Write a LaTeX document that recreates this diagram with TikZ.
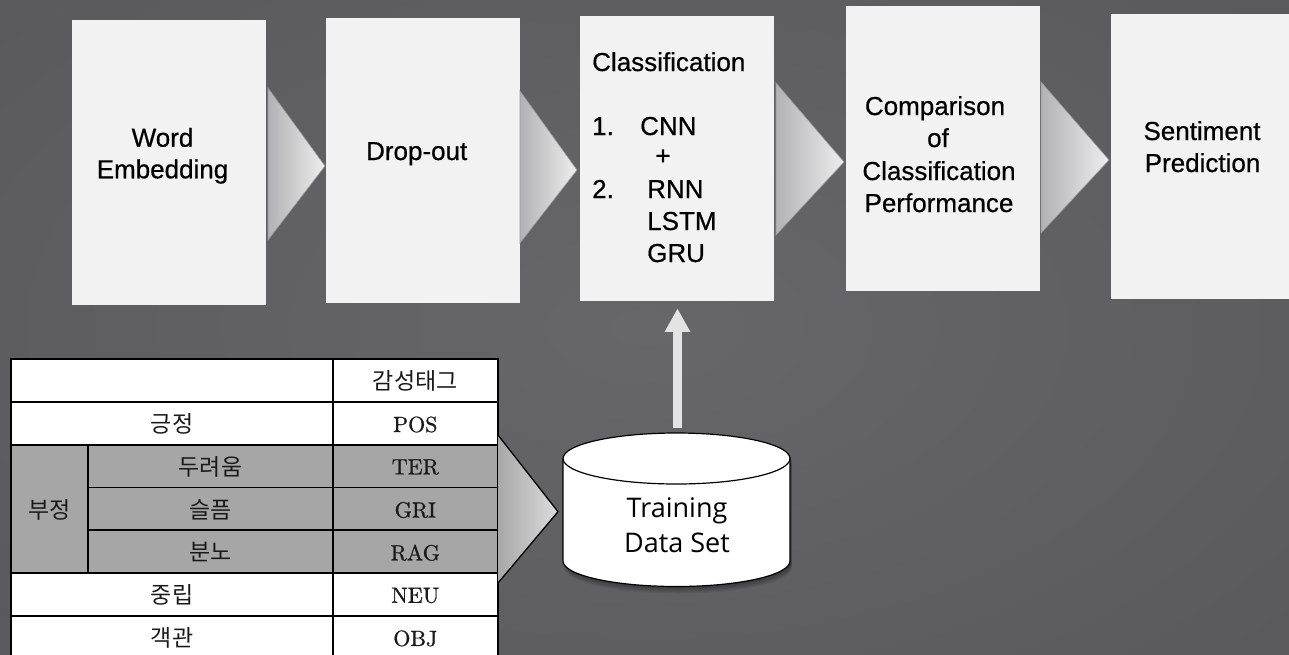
\documentclass[tikz,border=0pt]{standalone}
\usepackage{fontspec}
\newfontfamily\boxfont{Liberation Sans}[FakeBold=0.6]
\newfontfamily\krfont{Noto Sans CJK KR}
\newfontfamily\dbfont{Open Sans}
\newfontfamily\tagfont{lmroman10-regular}[Extension=.otf, FakeBold=0.8]
\usetikzlibrary{calc,arrows.meta}

\definecolor{bgmid}{HTML}{67666B}
\definecolor{bgedge}{HTML}{5A595E}
\definecolor{panel}{HTML}{F2F2F2}
\definecolor{chevL}{HTML}{B2B2B6}
\definecolor{chevR}{HTML}{EEEEEE}
\definecolor{chevEdge}{HTML}{9A9A9E}
\definecolor{tabL}{HTML}{A8A8A8}
\definecolor{tabR}{HTML}{DCDCDC}
\definecolor{negrow}{HTML}{A6A6A6}
\definecolor{uparrow}{HTML}{E3E3E3}
\definecolor{ink}{HTML}{1A1A1A}

% outline of the data-set cylinder, in page coordinates
\newcommand{\dbshape}{(563,458.5) -- (563,561)
  arc[start angle=180,end angle=360,x radius=113.5pt,y radius=25.5pt]
  -- (790,458.5)
  arc[start angle=0,end angle=180,x radius=113.5pt,y radius=25.5pt] -- cycle}

\begin{document}
\begin{tikzpicture}[x=1pt,y=-1pt,
  stage/.style={fill=panel, draw=none, inner sep=0, anchor=north west,
                minimum width=194pt, minimum height=285pt},
  lbl/.style={font=\boxfont\fontsize{26}{30}\selectfont, text=black,
              inner sep=0, anchor=base},
  lblw/.style={lbl, anchor=base west},
  kr/.style={font=\krfont\fontsize{23}{27}\selectfont, text=ink, inner sep=0},
  tag/.style={font=\tagfont\fontsize{22}{26}\selectfont, text=ink, inner sep=0},
  grid/.style={draw=black, line width=1.8pt},
  chev/.style={draw=chevEdge, line width=0.6pt},
]
\useasboundingbox (0,0) rectangle (1289,654);
\clip (0,0) rectangle (1289,654);

% backdrop
\shade[inner color=bgmid, outer color=bgedge] (-200,-150) rectangle (1489,804);

% pipeline stages
\node[stage] (b1) at (72,20) {};
\node[stage] (b2) at (326,18) {};
\node[stage] (b3) at (580,16) {};
\node[stage] (b4) at (846,6) {};
\node[stage] (b5) at (1111,14) {};

% chevrons between the stages
\foreach \xl/\yt/\yb/\xt/\yc in {268/88/240/325/166, 520/91/243/577/170,
                                 776/83/235/844/162, 1041/82/233/1109/160}{
  \shade[left color=chevL, right color=chevR]
    (\xl,\yt) -- (\xt,\yc) -- (\xl,\yb) -- cycle;
  \draw[chev] (\xl,\yt) -- (\xt,\yc) -- (\xl,\yb) -- cycle;
}

% stage labels
\node[lbl] (w1) at (162.5,146.7) {Word};
\node[lbl] (w2) at (162.5,178.3) {Embedding};
\node[lbl] (d1) at (416.7,160) {Drop-out};

\node[lblw] (c0) at (592,71) {Classification};
\node[lblw] (n1) at (592,135) {1.};
\node[lblw] (c1) at (640,135) {CNN};
\node[lbl, anchor=center] (cp) at (663,157) {+};
\node[lblw] (n2) at (592,198) {2.};
\node[lblw] (c2) at (647,198) {RNN};
\node[lblw] (c3) at (647,230) {LSTM};
\node[lblw] (c4) at (647,262) {GRU};

\node[lbl] (p1) at (935,115) {Comparison};
\node[lbl] (p2) at (938,147) {of};
\node[lbl] (p3) at (939,180) {Classification};
\node[lbl] (p4) at (939,212) {Performance};

\node[lbl] (s1) at (1202,140) {Sentiment};
\node[lbl] (s2) at (1202.5,172) {Prediction};

% sentiment tag table
\fill[white] (11,359) rectangle (497.7,658.8);
\fill[negrow] (11,444.6) rectangle (497.7,573.1);
\draw[grid] (11,359) rectangle (497.7,658.8);
\foreach \y in {401.8,444.6,573.1,616}{\draw[grid] (11,\y) -- (497.7,\y);}
\foreach \y in {487.4,530.3}{\draw[grid] (88,\y) -- (497.7,\y);}
\draw[grid] (333,359) -- (333,658.8);
\draw[grid] (88,444.6) -- (88,573.1);

\node[kr] (h) at (415.3,381) {감성태그};
\node[kr] (k1) at (172,423.8) {긍정};
\node[kr] (k2) at (49.5,509.5) {부정};
\node[kr] (k3) at (210.5,466.5) {두려움};
\node[kr] (k4) at (210.5,509.5) {슬픔};
\node[kr] (k5) at (210.5,552.2) {분노};
\node[kr] (k6) at (172,595) {중립};
\node[kr] (k7) at (172,638) {객관};
\node[tag] (t1) at (415.3,424.5) {POS};
\node[tag] (t2) at (415.3,467) {TER};
\node[tag] (t3) at (415.3,510) {GRI};
\node[tag] (t4) at (415.3,552.7) {RAG};
\node[tag] (t5) at (415.3,595.5) {NEU};
\node[tag] (t6) at (415.3,638.4) {OBJ};

% chevron from the table into the data set
\shade[left color=tabL, right color=tabR]
  (498,435) -- (558,511.7) -- (498,583) -- cycle;
\draw[line width=1.3pt, black] (498,435) -- (558,511.7) -- (498,583);

% data-set cylinder with a soft shadow
\foreach \s in {1,...,7}{
  \begin{scope}[shift={(1.5,\s)}]
    \fill[black, opacity=0.06] \dbshape;
  \end{scope}
}
\node[minimum width=227pt, minimum height=153.5pt, inner sep=0] (db) at (676.5,509.75) {};
\filldraw[fill=white, draw=black, line width=1.2pt] \dbshape;
\draw[black, line width=1.2pt] (563,458.5)
  arc[start angle=180,end angle=360,x radius=113.5pt,y radius=25.5pt];
\node[font=\dbfont\fontsize{27}{32}\selectfont, inner sep=0, anchor=base] (dt1) at (677,517) {Training};
\node[font=\dbfont\fontsize{27}{32}\selectfont, inner sep=0, anchor=base] (dt2) at (677,552) {Data Set};

% training data feeds the classifiers
\coordinate (ubase) at ($(db.north)+(1,0)$);
\coordinate (utop) at (ubase |- b3.south);
\draw[uparrow, line width=9pt, -{Triangle[width=24pt,length=23.5pt]},
      shorten <=5pt, shorten >=7pt] (ubase) -- (utop);
\end{tikzpicture}
\end{document}
